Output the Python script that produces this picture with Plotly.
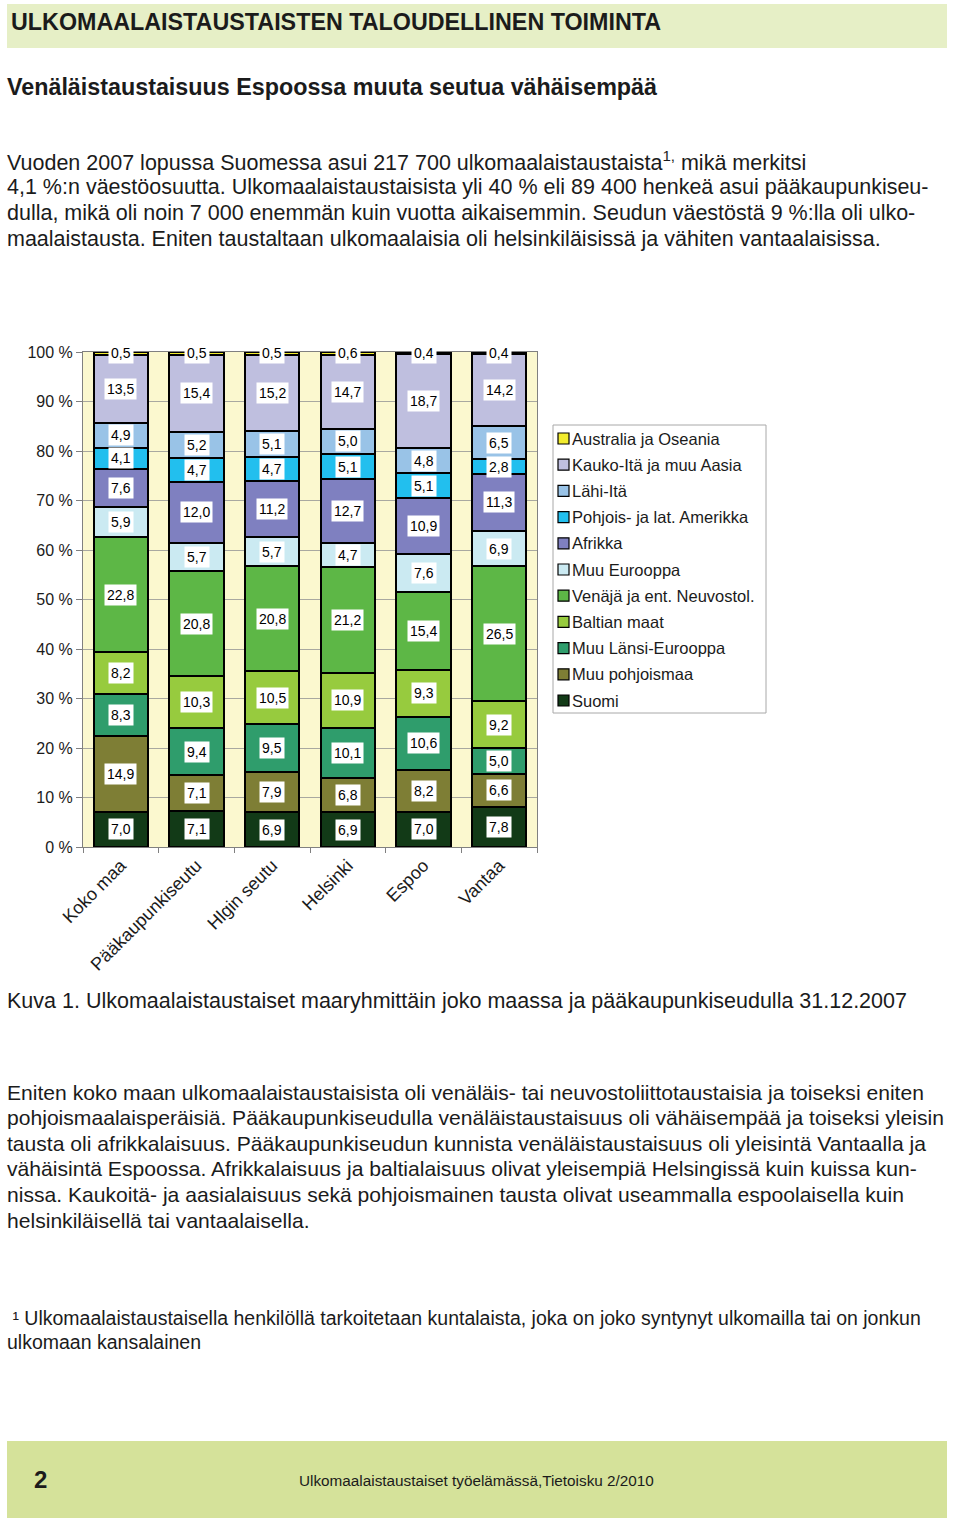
import plotly.graph_objects as go

W, H = 960, 1526

categories = ["Koko maa", "Pääkaupunkiseutu", "Hlgin seutu", "Helsinki", "Espoo", "Vantaa"]

# values (%), bottom to top of each stacked bar
suomi = [7.0, 7.1, 6.9, 6.9, 7.0, 7.8]
muu_pohjoismaa = [14.9, 7.1, 7.9, 6.8, 8.2, 6.6]
muu_lansi_eurooppa = [8.3, 9.4, 9.5, 10.1, 10.6, 5.0]
baltian_maat = [8.2, 10.3, 10.5, 10.9, 9.3, 9.2]
venaja = [22.8, 20.8, 20.8, 21.2, 15.4, 26.5]
muu_eurooppa = [5.9, 5.7, 5.7, 4.7, 7.6, 6.9]
afrikka = [7.6, 12.0, 11.2, 12.7, 10.9, 11.3]
amerikka = [4.1, 4.7, 4.7, 5.1, 5.1, 2.8]
lahi_ita = [4.9, 5.2, 5.1, 5.0, 4.8, 6.5]
kauko_ita = [13.5, 15.4, 15.2, 14.7, 18.7, 14.2]
australia = [0.5, 0.5, 0.5, 0.6, 0.4, 0.4]

series_names = ["Suomi", "Muu pohjoismaa", "Muu Länsi-Eurooppa", "Baltian maat",
                "Venäjä ja ent. Neuvostol.", "Muu Eurooppa", "Afrikka",
                "Pohjois- ja lat. Amerikka", "Lähi-Itä", "Kauko-Itä ja muu Aasia",
                "Australia ja Oseania"]
series_values = [suomi, muu_pohjoismaa, muu_lansi_eurooppa, baltian_maat, venaja,
                 muu_eurooppa, afrikka, amerikka, lahi_ita, kauko_ita, australia]
series_colors = ["#123A17", "#7E7E35", "#2F9D6C", "#97CB3E", "#5DB746", "#CBEAF2",
                 "#7F80C0", "#22BFEE", "#99C3E7", "#BFBFDF", "#F2EC2E"]

ytick_vals = [0, 10, 20, 30, 40, 50, 60, 70, 80, 90, 100]
ytick_text = [f"{v} %" for v in ytick_vals]

FONT = "Liberation Sans, Arial, sans-serif"
TXT = "#1b1b1b"


def px_x(x):
    return x / W


def px_y(y):
    return 1 - y / H


fig = go.Figure()
for name, vals, col in zip(series_names, series_values, series_colors):
    fig.add_trace(go.Bar(
        x=categories, y=vals, name=name, showlegend=False,
        marker=dict(color=col, line=dict(color="#000000", width=2)),
        hoverinfo="x+y+name",
    ))

annotations = []
shapes = []

# data labels (white boxes at the middle of each segment)
for i, cat in enumerate(categories):
    total = sum(s[i] for s in series_values)
    cum = 0.0
    for vals in series_values:
        v = vals[i]
        mid = (cum + v / 2) / total * 100
        cum += v
        annotations.append(dict(
            x=cat, y=mid, xref="x", yref="y", text=f"{v:.1f}".replace(".", ","),
            showarrow=False, font=dict(family=FONT, size=14, color="#000"),
            bgcolor="white", borderpad=2,
        ))


def line(text, x, y, size, bold=False, color=TXT, anchor="left"):
    t = f"<b>{text}</b>" if bold else text
    annotations.append(dict(
        x=px_x(x), y=px_y(y), xref="paper", yref="paper", text=t, showarrow=False,
        xanchor=anchor, yanchor="middle", font=dict(family=FONT, size=size, color=color),
        borderpad=0, borderwidth=0,
    ))


line("ULKOMAALAISTAUSTAISTEN TALOUDELLINEN TOIMINTA", 11, 22, 23.3, bold=True)
line("Venäläistaustaisuus Espoossa muuta seutua vähäisempää", 7, 87, 23.3, bold=True)

para1 = [
    "Vuoden 2007 lopussa Suomessa asui 217 700 ulkomaalaistaustaista<sup>1,</sup> mikä merkitsi",
    "4,1 %:n väestöosuutta. Ulkomaalaistaustaisista yli 40 % eli 89 400 henkeä asui pääkaupunkiseu-",
    "dulla, mikä oli noin 7 000 enemmän kuin vuotta aikaisemmin. Seudun väestöstä 9 %:lla oli ulko-",
    "maalaistausta. Eniten taustaltaan ulkomaalaisia oli helsinkiläisissä ja vähiten vantaalaisissa.",
]
for k, t in enumerate(para1):
    line(t, 7, 161 + k * 26, 21.5)

line("Kuva 1. Ulkomaalaistaustaiset maaryhmittäin joko maassa ja pääkaupunkiseudulla 31.12.2007",
     7, 1001, 21.5)

para2 = [
    "Eniten koko maan ulkomaalaistaustaisista oli venäläis- tai neuvostoliittotaustaisia ja toiseksi eniten",
    "pohjoismaalaisperäisiä. Pääkaupunkiseudulla venäläistaustaisuus oli vähäisempää ja toiseksi yleisin",
    "tausta oli afrikkalaisuus. Pääkaupunkiseudun kunnista venäläistaustaisuus oli yleisintä Vantaalla ja",
    "vähäisintä Espoossa. Afrikkalaisuus ja baltialaisuus olivat yleisempiä Helsingissä kuin kuissa kun-",
    "nissa. Kaukoitä- ja aasialaisuus sekä pohjoismainen tausta olivat useammalla espoolaisella kuin",
    "helsinkiläisellä tai vantaalaisella.",
]
for k, t in enumerate(para2):
    line(t, 7, 1092 + k * 25.6, 21.1)

line("\u00a0¹ Ulkomaalaistaustaisella henkilöllä tarkoitetaan kuntalaista, joka on joko syntynyt ulkomailla tai on jonkun",
     7, 1318, 19.5)
line("ulkomaan kansalainen", 7, 1342, 19.5)

line("2", 34, 1479, 24, bold=True)
line("Ulkomaalaistaustaiset työelämässä,Tietoisku 2/2010", 476, 1480, 15.3, anchor="center")

# page bands
shapes.append(dict(type="rect", xref="paper", yref="paper", x0=px_x(7), x1=px_x(947),
                   y0=px_y(48), y1=px_y(4), fillcolor="#E6EFC6", line=dict(width=0), layer="below"))
shapes.append(dict(type="rect", xref="paper", yref="paper", x0=px_x(7), x1=px_x(947),
                   y0=px_y(1518), y1=px_y(1441), fillcolor="#D5E29A", line=dict(width=0), layer="below"))

# legend (Australia at top, Suomi at bottom)
LX0, LX1, LY0, LY1 = 553, 766, 425, 713
shapes.append(dict(type="rect", xref="paper", yref="paper", x0=px_x(LX0), x1=px_x(LX1),
                   y0=px_y(LY1), y1=px_y(LY0), fillcolor="white",
                   line=dict(color="#A8A8A8", width=1)))
for k, idx in enumerate(range(len(series_names) - 1, -1, -1)):
    yc = 438.5 + k * 26.2
    shapes.append(dict(type="rect", xref="paper", yref="paper",
                       x0=px_x(558), x1=px_x(569), y0=px_y(yc + 5.5), y1=px_y(yc - 5.5),
                       fillcolor=series_colors[idx], line=dict(color="#000", width=1.2)))
    line(series_names[idx], 572, yc, 16.5)

fig.update_layout(
    width=W, height=H,
    margin=dict(l=0, r=0, t=0, b=0, pad=0),
    paper_bgcolor="white",
    plot_bgcolor="#FBF8CF",
    barmode="stack", barnorm="percent", bargap=0.285,
    font=dict(family=FONT, color=TXT),
    showlegend=False,
    xaxis=dict(
        domain=[px_x(83), px_x(537)], type="category",
        tickangle=-45, tickfont=dict(family=FONT, size=18, color=TXT),
        showline=True, linecolor="#808080", linewidth=1, mirror=True,
        ticks="outside", tickson="boundaries", ticklen=5, tickcolor="#808080",
        showgrid=False, automargin=False,
    ),
    yaxis=dict(
        domain=[px_y(847), px_y(352)], range=[0, 100],
        tickmode="array", tickvals=ytick_vals, ticktext=ytick_text,
        tickfont=dict(family=FONT, size=16, color=TXT),
        showline=True, linecolor="#808080", linewidth=1, mirror=True,
        ticks="outside", ticklen=6, tickcolor="#808080",
        showgrid=True, gridcolor="#A8A8A0", gridwidth=1, zeroline=False,
        automargin=False,
    ),
    annotations=annotations,
    shapes=shapes,
)

fig.write_html(
    "out.html",
    post_script="document.body.style.margin='0';document.body.style.overflow='hidden';",
)
